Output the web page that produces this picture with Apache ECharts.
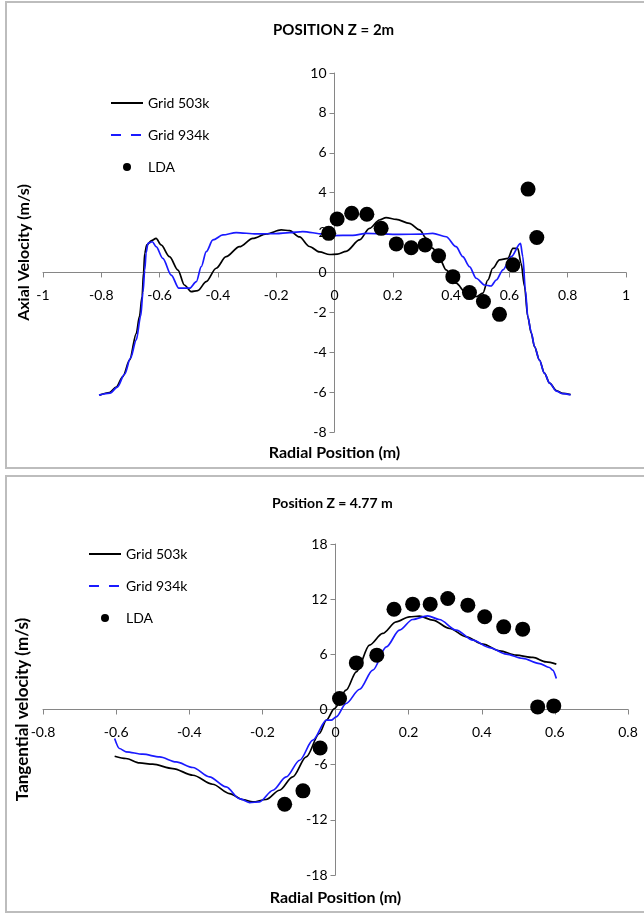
<!DOCTYPE html>
<html>
<head>
<meta charset="utf-8">
<title>Velocity profiles</title>
<script src="https://cdn.jsdelivr.net/npm/echarts@6/dist/echarts.min.js"></script>
<style>
  body { margin: 0; background: #fff; }
  .frame { position: absolute; box-sizing: border-box; border: 2px solid #bdbdbd; }
  #chart { position: absolute; left: 0; top: 0; width: 644px; height: 916px; }
</style>
</head>
<body>
<div class="frame" style="left:5px; top:1px; width:645px; height:468px;"></div>
<div class="frame" style="left:5px; top:475px; width:645px; height:438px;"></div>
<div id="chart"></div>
<script>
// --- panel 1 : axial velocity, z = 2 m  [radial position, velocity]
const axialGrid503 = [
  [-0.806, -6.15], [-0.772, -6.02], [-0.749, -5.75], [-0.726, -5.22], [-0.703, -4.4],
  [-0.68, -3.05], [-0.669, -2.2], [-0.66, -1.2], [-0.655, 0.0], [-0.651, 0.96],
  [-0.644, 1.38], [-0.628, 1.6], [-0.612, 1.71], [-0.595, 1.38], [-0.566, 0.79],
  [-0.537, 0.12], [-0.515, -0.63], [-0.492, -0.96], [-0.469, -0.91], [-0.44, -0.46],
  [-0.406, 0.21], [-0.372, 0.79], [-0.326, 1.29], [-0.28, 1.71], [-0.234, 1.93],
  [-0.183, 2.13], [-0.154, 2.1], [-0.12, 1.78], [-0.086, 1.3], [-0.051, 1.03],
  [-0.017, 0.9], [0.01, 0.92], [0.04, 1.06], [0.086, 1.63], [0.12, 2.21],
  [0.154, 2.63], [0.177, 2.75], [0.212, 2.66], [0.257, 2.46], [0.292, 2.13],
  [0.315, 1.71], [0.337, 1.21], [0.36, 0.71], [0.383, 0.13], [0.417, -0.54],
  [0.452, -1.04], [0.486, -1.21], [0.509, -1.04], [0.526, -0.38], [0.543, 0.21],
  [0.566, 0.63], [0.595, 0.71], [0.612, 1.21], [0.629, 1.2], [0.64, 0.46],
  [0.652, -0.71], [0.663, -2.22], [0.675, -3.05], [0.686, -3.72], [0.703, -4.39],
  [0.72, -5.05], [0.738, -5.55], [0.761, -5.92], [0.783, -6.06], [0.81, -6.12]
];
const axialGrid934 = [
  [-0.808, -6.15], [-0.77, -6.05], [-0.745, -5.75], [-0.72, -5.1], [-0.7, -4.3],
  [-0.68, -3.38], [-0.665, -2.2], [-0.657, -1.0], [-0.651, 0.12], [-0.646, 1.0],
  [-0.64, 1.46], [-0.625, 1.54], [-0.612, 1.29], [-0.589, 0.71], [-0.56, -0.13],
  [-0.534, -0.79], [-0.497, -0.79], [-0.474, -0.46], [-0.457, 0.29], [-0.44, 1.04],
  [-0.417, 1.63], [-0.383, 1.88], [-0.337, 2.0], [-0.269, 1.93], [-0.2, 1.95],
  [-0.154, 2.0], [-0.109, 2.05], [-0.04, 1.93], [-0.006, 1.85], [0.063, 1.86],
  [0.109, 1.96], [0.223, 1.91], [0.3, 1.92], [0.337, 1.96], [0.383, 1.79],
  [0.417, 1.29], [0.44, 0.79], [0.463, 0.29], [0.486, -0.29], [0.515, -0.63],
  [0.537, -0.68], [0.555, -0.38], [0.578, 0.13], [0.606, 0.79], [0.638, 1.46],
  [0.646, 0.79], [0.655, -0.9], [0.663, -2.2], [0.675, -3.0], [0.686, -3.7],
  [0.703, -4.4], [0.72, -5.05], [0.738, -5.55], [0.761, -5.95], [0.783, -6.08],
  [0.81, -6.14]
];
const axialLDA = [
  [-0.02, 1.96], [0.009, 2.68], [0.059, 2.97], [0.111, 2.92], [0.16, 2.21],
  [0.212, 1.43], [0.263, 1.24], [0.311, 1.38], [0.357, 0.84], [0.406, -0.21],
  [0.463, -1.01], [0.511, -1.46], [0.566, -2.1], [0.612, 0.38], [0.664, 4.18],
  [0.694, 1.75]
];

// --- panel 2 : tangential velocity, z = 4.77 m
const tangGrid503 = [
  [-0.604, -5.08], [-0.573, -5.33], [-0.536, -5.81], [-0.5, -5.95], [-0.445, -6.42],
  [-0.39, -7.15], [-0.336, -8.13], [-0.29, -9.14], [-0.254, -9.79], [-0.226, -10.05],
  [-0.19, -9.79], [-0.153, -8.78], [-0.117, -7.33], [-0.08, -5.16], [-0.044, -2.61],
  [-0.025, -1.16], [-0.003, 0.1], [0.029, 2.1], [0.057, 4.09], [0.093, 7.0],
  [0.129, 8.27], [0.166, 9.53], [0.202, 10.08], [0.23, 10.15], [0.266, 9.72],
  [0.312, 8.81], [0.358, 7.9], [0.403, 7.1], [0.449, 6.38], [0.494, 5.91],
  [0.54, 5.66], [0.576, 5.18], [0.604, 4.93]
];
const tangGrid934 = [
  [-0.604, -3.16], [-0.591, -4.24], [-0.573, -4.6], [-0.527, -4.86], [-0.481, -5.16],
  [-0.436, -5.7], [-0.39, -6.31], [-0.345, -7.33], [-0.299, -8.42], [-0.263, -9.69],
  [-0.235, -10.12], [-0.208, -10.05], [-0.171, -8.78], [-0.135, -7.33], [-0.098, -5.52],
  [-0.062, -3.34], [-0.025, -1.16], [-0.012, -1.16], [0.002, -0.8], [0.029, 0.65],
  [0.066, 2.2], [0.102, 4.28], [0.139, 6.81], [0.175, 8.63], [0.211, 9.79],
  [0.252, 10.19], [0.284, 9.79], [0.33, 8.63], [0.376, 7.54], [0.421, 6.74],
  [0.467, 6.02], [0.512, 5.55], [0.558, 5.0], [0.585, 4.57], [0.594, 4.28],
  [0.604, 3.37]
];
const tangLDA = [
  [-0.139, -10.3], [-0.089, -8.85], [-0.042, -4.18], [0.011, 1.2], [0.057, 5.07],
  [0.113, 5.91], [0.16, 10.91], [0.211, 11.46], [0.259, 11.46], [0.307, 12.07],
  [0.362, 11.35], [0.408, 10.08], [0.46, 8.99], [0.512, 8.74], [0.553, 0.28],
  [0.597, 0.39]
];

const seriesNames = ["Grid 503k", "Grid 934k", "LDA"];
const panelTitles = ["POSITION Z = 2m", "Position Z = 4.77 m"];
const yAxisNames = ["Axial Velocity (m/s)", "Tangential velocity (m/s)"];
const xAxisName = "Radial Position (m)";

const FONT = 'Lato, "Open Sans", sans-serif';
const AXIS_GREY = "#868686";

// panel boxes (pixels); the axes cross at value 0, so each axis is shifted
// into the plot by the pixel distance from the grid edge to that zero
const panels = [
  { left: 43, top: 73, width: 583, height: 359, xMin: -1, xMax: 1, yMin: -8, yMax: 10, yStep: 2 },
  { left: 43, top: 544, width: 585, height: 331, xMin: -0.8, xMax: 0.8, yMin: -18, yMax: 18, yStep: 6 }
];

function zeroOffsets(p) {
  const dx = p.width * (0 - p.xMin) / (p.xMax - p.xMin);
  const dy = p.height * (p.yMax - 0) / (p.yMax - p.yMin);
  return { yAxisOffset: -dx, xAxisOffset: -(p.height - dy) };
}

function makeXAxis(i, nameGap) {
  const p = panels[i];
  return {
    gridIndex: i, type: "value", min: p.xMin, max: p.xMax, interval: 0.2,
    position: "bottom", offset: zeroOffsets(p).xAxisOffset,
    splitLine: { show: false },
    axisLine: { onZero: false, lineStyle: { color: AXIS_GREY } },
    axisTick: { length: 5, lineStyle: { color: AXIS_GREY } },
    axisLabel: { fontSize: 14, color: "#000", margin: 16, fontFamily: FONT },
    name: xAxisName, nameLocation: "middle", nameGap,
    nameTextStyle: { fontSize: 16, fontWeight: "bold", color: "#000", fontFamily: FONT }
  };
}

function makeYAxis(i, name, nameGap, nameSize) {
  const p = panels[i];
  return {
    gridIndex: i, type: "value", min: p.yMin, max: p.yMax, interval: p.yStep,
    position: "left", offset: zeroOffsets(p).yAxisOffset,
    splitLine: { show: false },
    axisLine: { onZero: false, lineStyle: { color: AXIS_GREY } },
    axisTick: { length: 5, lineStyle: { color: AXIS_GREY } },
    axisLabel: { fontSize: 14, color: "#000", margin: 8, fontFamily: FONT },
    name, nameLocation: "middle", nameGap, nameRotate: 90,
    nameTextStyle: { fontSize: nameSize, fontWeight: "bold", color: "#000", fontFamily: FONT }
  };
}

function makeLegend(left, top) {
  return {
    orient: "vertical", left, top, padding: 0,
    itemWidth: 32, itemHeight: 8, itemGap: 18,
    textStyle: { fontSize: 14, color: "#000", fontFamily: FONT },
    data: [
      { name: seriesNames[0], itemStyle: { opacity: 0 } },
      { name: seriesNames[1], itemStyle: { opacity: 0 }, lineStyle: { type: [10, 10] } },
      { name: seriesNames[2], icon: "circle" }
    ]
  };
}

function lineSeries(name, data, idx, color) {
  return {
    name, type: "line", data, xAxisIndex: idx, yAxisIndex: idx,
    showSymbol: false, symbol: "none", smooth: 0.3, smoothMonotone: "x",
    lineStyle: { color, width: 1.7 }, itemStyle: { color },
    z: 2
  };
}

function ldaSeries(data, idx) {
  return {
    name: seriesNames[2], type: "scatter", data, xAxisIndex: idx, yAxisIndex: idx,
    symbol: "circle", symbolSize: 15, itemStyle: { color: "#000", opacity: 1 },
    z: 3
  };
}

function init() {
  const chart = echarts.init(document.getElementById("chart"));
  chart.setOption({
    animation: false,
    title: [
      { text: panelTitles[0], left: 268, top: 18,
        textStyle: { fontSize: 15, fontWeight: "bold", color: "#000", fontFamily: FONT } },
      { text: panelTitles[1], left: 267, top: 491,
        textStyle: { fontSize: 14, fontWeight: "bold", color: "#000", fontFamily: FONT } }
    ],
    legend: [makeLegend(110, 96), makeLegend(88, 547)],
    grid: panels.map(p => ({
      left: p.left, top: p.top, width: p.width, height: p.height,
      outerBoundsMode: "none", containLabel: false
    })),
    xAxis: [makeXAxis(0, 172), makeXAxis(1, 180)],
    yAxis: [
      makeYAxis(0, yAxisNames[0], 303, 16),
      makeYAxis(1, yAxisNames[1], 304, 17)
    ],
    series: [
      lineSeries(seriesNames[0], axialGrid503, 0, "#000"),
      lineSeries(seriesNames[1], axialGrid934, 0, "#1a1aff"),
      ldaSeries(axialLDA, 0),
      lineSeries(seriesNames[0], tangGrid503, 1, "#000"),
      lineSeries(seriesNames[1], tangGrid934, 1, "#1a1aff"),
      ldaSeries(tangLDA, 1)
    ]
  });
}

init();
</script>
</body>
</html>
